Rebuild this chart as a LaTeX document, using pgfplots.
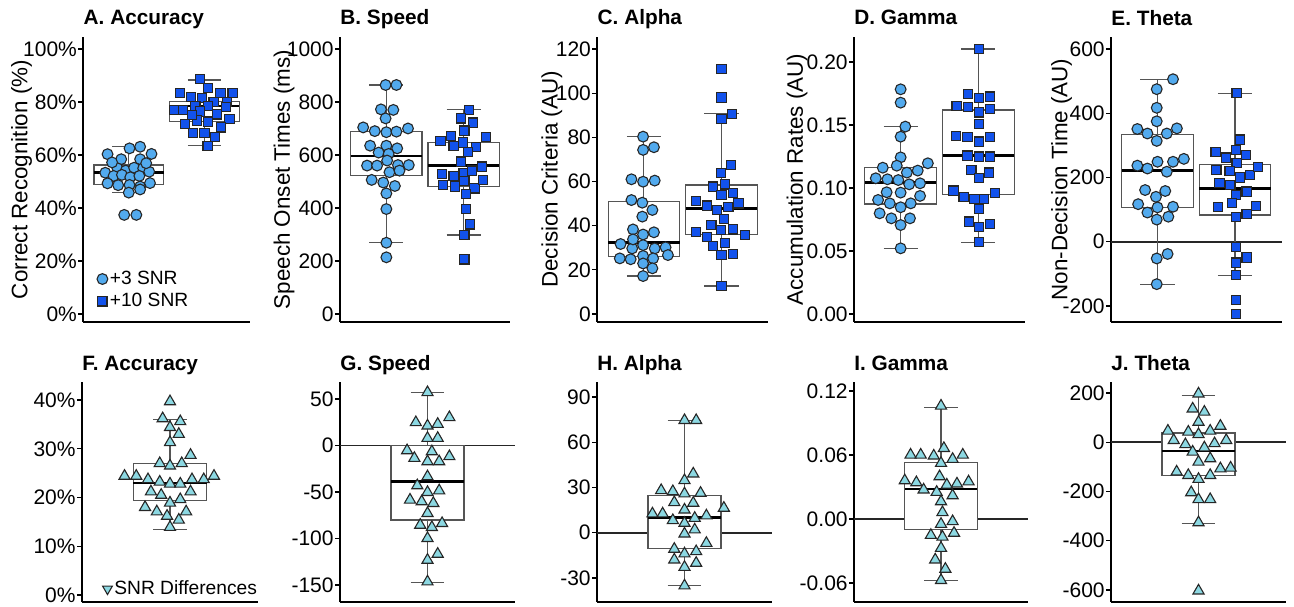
\documentclass[border=0pt]{standalone}
\usepackage{fontspec}
\setmainfont{Liberation Sans}
\usepackage{pgfplots}
\pgfplotsset{compat=1.18}
\definecolor{snr3}{RGB}{82,170,238}
\definecolor{snr10}{RGB}{18,82,236}
\definecolor{sdiff}{RGB}{140,216,226}
\definecolor{boxgray}{RGB}{85,85,85}

\pgfplotsset{
  panel/.style={
    scale only axis, anchor=south west, clip=false,
    axis lines*=left,
    axis line style={line width=1pt, black},
    xtick=\empty,
    tick align=outside, major tick length=2.5pt,
    ytick style={line width=0.6pt, black},
    scaled y ticks=false,
    /pgf/number format/assume math mode=true,
    /pgf/number format/1000 sep={},
    yticklabel style={font=\fontsize{10.5}{12}\selectfont, inner sep=0.5pt},
    ylabel style={font=\fontsize{11.2}{13}\selectfont, at={(axis description cs:0,0.5)}, anchor=center},
    title style={font=\bfseries\fontsize{10.4}{12}\selectfont, at={(axis description cs:0,1)}, anchor=base west, inner sep=0pt},
    legend style={draw=none, fill=none, font=\fontsize{9.6}{11}\selectfont, inner sep=0pt, row sep=1pt, nodes={inner sep=1pt}},
    legend cell align=left,
    legend image code/.code={\draw[#1] plot coordinates {(0pt,0pt)};},
  },
  top/.style={panel, height=142.5pt, xmin=0.4, xmax=2.6},
  bot/.style={panel, height=110pt, xmin=0.4, xmax=1.6},
  wsk/.style={forget plot, draw=boxgray, line width=0.6pt},
  boxs/.style={forget plot, draw=boxgray, fill=white, line width=0.6pt, line cap=rect},
  medl/.style={forget plot, black, line width=1.3pt},
  circ/.style={forget plot, only marks, mark=*, mark size=2.7pt,
    mark options={fill=snr3, draw=black!85, line width=0.55pt}},
  sqr/.style={forget plot, only marks, mark=square*, mark size=2.3pt,
    mark options={fill=snr10, draw=black!85, line width=0.55pt}},
  tri/.style={forget plot, only marks, mark=triangle*, mark size=3.2pt,
    mark options={fill=sdiff, draw=black!85, line width=0.55pt}},
  zline/.style={forget plot, black!85, line width=0.9pt},
}

% box plot from prepared numbers:
% #1 position, #2 box half width, #3 cap half width,
% #4 lower whisker, #5 Q1, #6 median, #7 Q3, #8 upper whisker
\newcommand{\bplot}[8]{%
  \pgfmathsetmacro\bxL{#1-#2}\pgfmathsetmacro\bxR{#1+#2}%
  \pgfmathsetmacro\cpL{#1-#3}\pgfmathsetmacro\cpR{#1+#3}%
  \edef\bxcmd{%
    \noexpand\addplot[wsk] coordinates {(#1,#4) (#1,#5)};
    \noexpand\addplot[wsk] coordinates {(#1,#7) (#1,#8)};
    \noexpand\addplot[wsk] coordinates {(\cpL,#4) (\cpR,#4)};
    \noexpand\addplot[wsk] coordinates {(\cpL,#8) (\cpR,#8)};
    \noexpand\addplot[boxs] coordinates {(\bxL,#5) (\bxR,#5) (\bxR,#7) (\bxL,#7) (\bxL,#5)};
    \noexpand\addplot[medl] coordinates {(\bxL,#6) (\bxR,#6)};
  }\bxcmd}

\begin{document}
\begin{tikzpicture}
\useasboundingbox (0,0) rectangle (647pt,303pt);

% ---------- A. Accuracy ----------
\begin{axis}[top, at={(41.65pt,142pt)}, width=83.35pt,
  ymin=-3, ymax=104.5, ytick={0,20,40,60,80,100},
  yticklabel={\pgfmathprintnumber{\tick}\%},
  ylabel={Correct Recognition (\%)}, ylabel style={yshift=30.8pt},
  title={A. Accuracy},
  legend style={at={(axis description cs:0.08,0.035)}, anchor=south west}]
\bplot{1}{0.46}{0.22}{45.8}{48.9}{53.5}{56.2}{63.1}
\bplot{2}{0.46}{0.22}{63.5}{72.6}{78.5}{80.1}{88.3}
\addplot[circ] coordinates {
(1.15,63.1) (1.01,62.5) (0.72,60.3) (1.30,60.4) (0.90,58.4) (1.15,58.4)
(0.69,53.3) (0.85,55.0) (0.96,54.1) (1.07,55.2) (1.19,55.0) (1.27,53.7)
(0.80,52.1) (0.91,52.5) (1.02,51.6) (1.14,52.1) (0.72,49.3) (0.86,48.6)
(1.01,48.7) (1.15,48.1) (1.28,49.4) (1.00,45.8) (1.15,47.0) (0.94,37.4)
(1.10,37.4) (0.78,57.2) (1.23,56.9)};
\addplot[sqr] coordinates {
(1.94,88.6) (2.05,85.2) (1.68,83.5) (1.82,81.8) (1.97,81.4) (2.21,83.5)
(2.37,83.5) (2.12,80.1) (2.30,80.1) (1.88,78.5) (2.05,78.5) (2.28,78.2)
(1.72,77.0) (1.60,77.0) (1.94,76.4) (2.16,75.3) (1.74,71.7) (1.90,73.0)
(2.05,72.6) (2.33,73.6) (1.85,68.4) (2.00,68.4) (2.22,70.4) (2.14,66.9)
(2.04,63.4) (1.83,75.1)};
\addlegendimage{only marks, mark=*, mark size=2.7pt, mark options={fill=snr3, draw=black!85, line width=0.55pt}}
\addlegendentry{+3 SNR}
\addlegendimage{only marks, mark=square*, mark size=2.3pt, mark options={fill=snr10, draw=black!85, line width=0.55pt}}
\addlegendentry{+10 SNR}
\end{axis}

% ---------- B. Speed ----------
\begin{axis}[top, at={(170pt,142pt)}, width=85pt,
  ymin=-30, ymax=1045, ytick={0,200,400,600,800,1000},
  ylabel={Speech Onset Times (ms)}, ylabel style={yshift=28pt},
  title={B. Speed}]
\bplot{1}{0.46}{0.22}{269}{522}{596}{690}{864}
\bplot{2}{0.46}{0.22}{298}{481}{560}{648}{772}
\addplot[circ] coordinates {
(0.99,864) (1.13,864) (0.93,772) (1.09,770) (0.99,738) (0.70,704)
(0.85,690) (1.00,686) (1.13,688) (1.28,700) (0.79,635) (1.00,635)
(1.14,625) (0.90,609) (1.03,604) (0.75,560) (0.88,560) (1.01,579)
(1.15,562) (1.29,562) (1.04,535) (1.17,541) (0.81,506) (0.96,496)
(1.11,483) (1.00,455) (1.00,396) (1.00,269) (1.00,214)};
\addplot[sqr] coordinates {
(2.07,770) (1.97,738) (2.12,722) (2.01,692) (1.70,654) (1.84,672)
(1.99,647) (2.16,629) (2.29,667) (1.87,634) (2.06,610) (1.72,528)
(1.87,521) (2.00,531) (2.11,541) (2.24,556) (1.97,575) (1.73,487)
(1.89,481) (2.01,502) (2.14,474) (2.25,506) (2.03,453) (2.03,395)
(2.08,338) (2.01,298) (2.01,206)};
\end{axis}

% ---------- C. Alpha ----------
\begin{axis}[top, at={(298.65pt,142pt)}, width=85.35pt,
  ymin=-3.6, ymax=125.4, ytick={0,20,40,60,80,100,120},
  ylabel={Decision Criteria (AU)}, ylabel style={yshift=22.8pt},
  title={C. Alpha}]
\bplot{1}{0.46}{0.22}{17.2}{26.0}{32.3}{50.9}{80.3}
\bplot{2}{0.46}{0.22}{12.7}{36.0}{47.8}{58.4}{90.6}
\addplot[circ] coordinates {
(0.99,80.3) (0.99,74.3) (1.13,75.5) (0.84,61.0) (0.99,59.9) (1.14,60.4)
(0.84,51.6) (0.98,50.4) (1.11,47.1) (0.98,44.1) (0.86,38.3) (1.13,37.0)
(0.99,36.0) (0.70,31.7) (0.85,29.7) (0.99,31.2) (1.14,29.7) (1.28,30.2)
(0.69,25.2) (0.83,24.8) (0.99,26.3) (1.12,25.2) (1.31,26.7) (0.99,22.9)
(1.11,20.7) (0.99,17.2) (0.86,33.8)};
\addplot[sqr] coordinates {
(2.00,110.9) (2.00,98.0) (2.00,88.2) (2.14,90.6) (2.12,67.5) (1.99,64.0)
(1.89,57.7) (2.05,58.7) (2.00,53.9) (2.15,54.9) (1.67,51.2) (1.81,49.1)
(1.94,47.1) (2.09,48.3) (2.22,50.1) (2.03,43.0) (1.87,40.3) (1.67,37.0)
(1.81,35.0) (1.99,38.0) (2.15,38.3) (2.30,35.8) (1.89,30.8) (2.05,32.3)
(2.00,26.7) (2.15,27.2) (2.00,12.7)};
\end{axis}

% ---------- D. Gamma ----------
\begin{axis}[top, at={(427pt,142pt)}, width=85.5pt,
  ymin=-0.00635, ymax=0.2198, ytick={0,0.05,0.1,0.15,0.2},
  yticklabel style={/pgf/number format/.cd, fixed, fixed zerofill, precision=2},
  ylabel={Accumulation Rates (AU)}, ylabel style={yshift=28.5pt},
  title={D. Gamma}]
\bplot{1}{0.46}{0.22}{0.0521}{0.0873}{0.1045}{0.1161}{0.1487}
\bplot{2}{0.46}{0.22}{0.0569}{0.0950}{0.1257}{0.1619}{0.2103}
\addplot[circ] coordinates {
(1.00,0.1783) (1.00,0.1677) (1.06,0.1487) (1.00,0.1407) (1.00,0.1243)
(0.77,0.1161) (0.95,0.1177) (1.35,0.1196) (1.22,0.1138) (1.08,0.1122)
(0.68,0.1077) (0.83,0.1069) (0.97,0.1063) (1.11,0.1029) (1.25,0.1037)
(0.82,0.0966) (1.00,0.0963) (1.25,0.0937) (0.71,0.0905) (0.86,0.0878)
(1.00,0.0847) (1.13,0.0878) (0.73,0.0799) (0.88,0.0759) (1.12,0.0759)
(1.00,0.0706) (1.00,0.0521)};
\addplot[sqr] coordinates {
(2.01,0.2103) (1.87,0.1746) (2.01,0.1712) (2.15,0.1725) (1.72,0.1653)
(1.87,0.1640) (2.01,0.1600) (2.15,0.1624) (2.01,0.1505) (1.71,0.1413)
(1.86,0.1402) (2.01,0.1368) (2.15,0.1402) (1.86,0.1257) (2.01,0.1249)
(2.15,0.1249) (1.91,0.1143) (2.14,0.1122) (2.01,0.1077) (1.68,0.0979)
(1.81,0.0931) (1.95,0.0913) (2.07,0.0910) (2.21,0.0958) (2.01,0.0833)
(1.88,0.0733) (2.01,0.0693) (2.15,0.0714) (2.01,0.0569)};
\end{axis}

% ---------- E. Theta ----------
\begin{axis}[top, at={(555.5pt,142pt)}, width=85.25pt,
  ymin=-249.8, ymax=637.4, ytick={-200,0,200,400,600},
  ylabel={Non-Decision Time (AU)}, ylabel style={yshift=24.7pt},
  title={E. Theta}]
\addplot[zline] coordinates {(0.4,0) (2.6,0)};
\bplot{1}{0.46}{0.22}{-132}{107}{221}{334}{505}
\bplot{2}{0.46}{0.22}{-104}{83}{165}{240}{462}
\addplot[circ] coordinates {
(1.20,506) (0.99,475) (0.99,417) (0.99,375) (0.74,351) (0.87,337)
(0.99,314) (1.12,337) (1.25,353) (0.74,237) (0.87,228) (1.00,249)
(1.12,218) (1.20,249) (1.34,258) (0.84,161) (0.98,140) (1.10,158)
(0.75,117) (0.87,91) (1.00,107) (1.20,109) (1.14,78) (0.99,69)
(0.99,-52) (1.13,-38) (0.99,-132)};
\addplot[sqr] coordinates {
(2.02,462) (2.06,318) (1.75,280) (1.88,262) (2.01,285) (2.14,270)
(2.02,246) (1.76,223) (1.93,221) (2.06,200) (2.19,207) (2.30,233)
(1.80,184) (1.94,176) (2.15,156) (2.01,145) (1.78,109) (1.96,121)
(2.15,86) (2.27,111) (2.01,78) (2.01,-16) (2.15,-49) (2.01,-65)
(2.01,-104) (2.01,-182) (2.01,-225)};
\end{axis}

% ---------- F. Accuracy ----------
\begin{axis}[bot, at={(41pt,2pt)}, width=88pt,
  ymin=-1.44, ymax=43.7, ytick={0,10,20,30,40},
  yticklabel={\pgfmathprintnumber{\tick}\%},
  title={F. Accuracy},
  legend style={at={(axis description cs:0.115,0.01)}, anchor=south west}]
\bplot{1}{0.25}{0.115}{13.5}{19.4}{23.0}{26.9}{36.0}
\addplot[tri] coordinates {
(1.00,39.7) (0.95,36.2) (1.07,35.6) (1.00,34.4) (1.06,33.0) (1.00,31.3)
(1.14,28.7) (0.93,27.0) (1.08,27.0) (1.00,26.5) (0.69,24.4) (0.77,24.4)
(0.85,23.7) (0.93,23.2) (1.00,22.8) (1.07,22.8) (1.15,23.7) (1.23,23.7)
(1.30,24.4) (0.87,21.2) (0.94,20.5) (1.14,21.2) (1.07,19.6) (1.00,18.9)
(0.83,18.0) (0.91,17.1) (1.11,17.1) (0.98,16.2) (1.06,15.4) (1.00,13.9)};
\addlegendimage{only marks, mark=triangle*, mark size=2.8pt, mark options={rotate=180, fill=sdiff, draw=black!85, line width=0.55pt}}
\addlegendentry{SNR Differences}
\end{axis}

% ---------- G. Speed ----------
\begin{axis}[bot, at={(170pt,2pt)}, width=87.5pt,
  ymin=-168.3, ymax=68.3, ytick={-150,-100,-50,0,50},
  title={G. Speed}]
\addplot[zline] coordinates {(0.4,0) (1.6,0)};
\bplot{1}{0.25}{0.115}{-147}{-80}{-38.8}{0}{57}
\addplot[tri] coordinates {
(1.00,57.1) (0.92,24.8) (1.00,21.2) (1.07,23.0) (1.15,30.2) (1.00,7.9)
(1.07,7.9) (0.86,-5.4) (1.03,-6.5) (0.91,-13.6) (1.00,-17.2) (1.08,-17.2)
(1.15,-11.8) (1.00,-33.4) (0.93,-43.1) (1.00,-50.3) (1.08,-48.5) (0.88,-58.5)
(0.96,-60.3) (1.04,-62.1) (1.00,-72.9) (0.95,-85.5) (1.03,-88.0) (1.10,-83.7)
(1.00,-99.8) (1.07,-116.7) (1.00,-123.2) (1.00,-146.5)};
\end{axis}

% ---------- H. Alpha ----------
\begin{axis}[bot, at={(298.5pt,2pt)}, width=87.5pt,
  ymin=-45.9, ymax=99.9, ytick={-30,0,30,60,90},
  title={H. Alpha}]
\addplot[zline] coordinates {(0.4,0) (1.6,0)};
\bplot{1}{0.25}{0.115}{-35}{-10.2}{10.2}{24.8}{74.3}
\addplot[tri] coordinates {
(1.00,74.5) (1.08,74.5) (1.06,39.1) (1.00,34.7) (0.84,28.1) (0.92,27.4)
(1.00,25.9) (1.11,26.3) (0.93,20.1) (1.06,19.7) (1.00,15.2) (1.27,16.4)
(0.78,12.6) (0.85,12.6) (1.15,11.3) (1.07,9.7) (0.92,8.2) (1.00,6.4)
(1.07,2.0) (1.00,-0.7) (1.15,-6.9) (0.93,-10.8) (1.08,-12.4) (1.00,-13.9)
(0.93,-17.9) (1.08,-20.1) (1.00,-22.8) (1.00,-35.1)};
\end{axis}

% ---------- I. Gamma ----------
\begin{axis}[bot, at={(427pt,2pt)}, width=87pt,
  ymin=-0.0778, ymax=0.1284, ytick={-0.06,0,0.06,0.12},
  yticklabel style={/pgf/number format/.cd, fixed, fixed zerofill, precision=2},
  title={I. Gamma}]
\addplot[zline] coordinates {(0.4,0) (1.6,0)};
\bplot{1}{0.25}{0.115}{-0.0575}{-0.0101}{0.0283}{0.0532}{0.1045}
\addplot[tri] coordinates {
(1.00,0.1060) (0.79,0.0601) (0.86,0.0601) (0.95,0.0592) (1.02,0.0663)
(1.08,0.0561) (1.15,0.0601) (1.00,0.0523) (0.75,0.0360) (0.83,0.0342)
(0.88,0.0274) (0.99,0.0398) (0.97,0.0252) (1.04,0.0320) (1.11,0.0330)
(1.19,0.0350) (1.00,0.0164) (1.08,0.0220) (1.01,0.0062) (1.00,-0.0048)
(1.08,-0.0023) (0.93,-0.0152) (1.01,-0.0168) (1.09,-0.0132) (1.00,-0.0273)
(0.96,-0.0382) (1.03,-0.0469) (1.00,-0.0575)};
\end{axis}

% ---------- J. Theta ----------
\begin{axis}[bot, at={(555.5pt,2pt)}, width=87.5pt,
  ymin=-648.7, ymax=244.7, ytick={-600,-400,-200,0,200},
  title={J. Theta}]
\addplot[zline] coordinates {(0.4,0) (1.6,0)};
\bplot{1}{0.25}{0.115}{-330}{-136}{-36}{38}{190}
\addplot[tri] coordinates {
(1.00,197) (0.96,136) (1.04,123) (1.00,82) (0.79,46) (0.93,42)
(1.00,32) (1.08,46) (1.15,66) (0.83,8) (1.19,8) (1.11,-5)
(0.91,-9) (1.04,-22) (0.96,-39) (1.00,-80) (1.08,-66) (0.85,-120)
(0.93,-134) (1.00,-150) (1.08,-134) (1.15,-107) (1.22,-104) (0.95,-204)
(1.00,-232) (1.08,-232) (1.00,-326) (1.00,-603)};
\end{axis}
\end{tikzpicture}
\end{document}
